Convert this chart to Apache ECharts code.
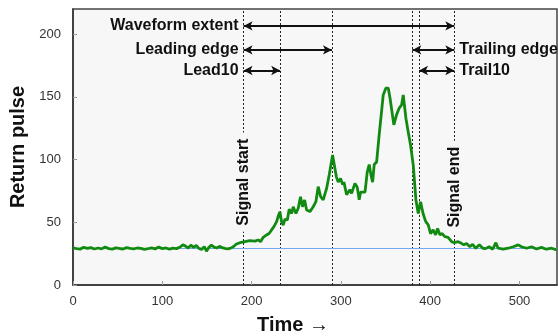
<!DOCTYPE html>
<html>
<head>
<meta charset="utf-8">
<script src="https://cdn.jsdelivr.net/npm/echarts@6/dist/echarts.min.js"></script>
<style>html,body{margin:0;padding:0;background:#fff}#c{width:558px;height:336px}</style>
</head>
<body>
<div id="c"></div>
<script>
// Waveform sample times and return-pulse values
const times = [0,4,8,12,16,20,24,28,32,36,40,44,48,52,56,60,64,68,72,76,80,84,88,92,96,100,104,108,112,116,120,123,126,129,132,135,138,141,144,147,149.5,152,155,158,161,164,167,170,173,176,179.5,183,187,192.5,198,203.7,207.4,210,213,216.8,219.8,222.4,225,228,229.9,231.7,233.6,235.4,237.3,240,242.1,244.8,246.6,249.6,252.2,254.8,257,259.4,261.6,265.3,269,272,274.6,277.3,280.2,284,286.9,290.7,293,295,297,299.6,302,303.4,306.4,310,312,315.7,318.3,320.5,322,324,327,329.5,331.7,333.6,335.5,337.3,340,342.9,345.5,347.4,350.4,353,355,356.7,359.3,362.3,365.3,368,369.8,372.8,375.4,378,381,384,386.6,389.2,392,395,397.8,400.4,403.3,406,408.3,410.8,413.4,416.4,420,424,427,431.3,435,437.7,440.7,444.4,447.5,451,455,459,462,466,470,473.5,476,481.7,487.3,493,498.6,502.3,508,513.5,519,524.6,530,536,541.5];
const pulse = [29.5,29,28.6,30,29.2,29.8,28.7,29.5,28.8,30.3,29,28.6,29.6,29.1,28.7,29.8,29.2,28.8,29.5,29.2,28.4,28.9,29.6,28.8,30.2,29,29.5,28.6,29.4,29,30.3,32,31,29.5,31.8,30,31.5,29.2,28.3,30.5,27,29.8,31.8,30.2,29.5,30.8,29.8,29.2,28.8,29.2,30.5,32.7,33.7,34.5,35.3,35,35.9,34.5,38,39.9,41.2,43.9,46.5,50.5,55,58.5,50.5,47.8,52.4,51.8,60.4,57,62.4,57,61.2,70.4,62.4,67.8,59.8,58.5,62.4,66.4,78.4,70.4,67.8,77,87.7,103.7,94,86,82,85,80,82,72,76,73,81,78,68,74,73,74,90,96,88,82,96,98,120,138,151.5,157,157,149,148,127.6,135.6,141,143.5,151.5,133,122,111.6,95.7,68,57,66.4,57,50.5,48,41,43.9,40,45,40,41,38.5,38,34.5,33.7,34.5,33.2,32,33,30.5,32.4,29.2,32,29.3,29,30.5,28.5,33.7,29.3,28.5,29.3,30.5,32,30.5,29.3,30.5,28.7,30,28.5,29.3,28];

// Noise level
const noiseLevel = 29.3;

// Event times
const signalStart = 191;
const lead10End = 232;
const leadingEdgeEnd = 290;
const trailingEdgeStart = 380;
const trail10Start = 387.5;
const signalEnd = 427;

// Arrow levels
const extentLevel = 206.5;
const edgeLevel = 187.4;
const tenLevel = 171;

// Vertical label anchor values
const signalStartLabelY = 82;
const signalEndLabelY = 78;

const xTicks = [0,100,200,300,400,500];
const yTicks = [0,50,100,150,200];

const FONT = "'Liberation Sans', Arial, sans-serif";
const series = times.map((t, i) => [t, pulse[i]]);

const arrowLabel = (text, pos) => ({
  show: true, position: pos, formatter: text, distance: 5,
  fontFamily: FONT, fontSize: 16, fontWeight: 'bold', color: '#111'
});
const arrow = (x0, x1, y, text, pos) => [
  { coord: [x0, y], label: arrowLabel(text, pos) },
  { coord: [x1, y] }
];
const vlabel = (text, x, y) => ({
  coord: [x, y],
  label: {
    show: true, position: 'inside', rotate: 90, formatter: text,
    fontFamily: FONT, fontSize: 16, fontWeight: 'bold', color: '#111',
    backgroundColor: '#f7f7f7', padding: [1, 6]
  }
});

const chart = echarts.init(document.getElementById('c'), null, { renderer: 'canvas' });
chart.setOption({
  animation: false,
  textStyle: { fontFamily: FONT },
  grid: {
    left: 73, top: 9, width: 484, height: 276,
    outerBoundsMode: 'none', containLabel: false,
    show: true, backgroundColor: '#f7f7f7', borderColor: '#444', borderWidth: 1.5
  },
  xAxis: {
    type: 'value', min: 0, max: 542, interval: 100,
    name: 'Time \u2192', nameLocation: 'middle', nameGap: 30,
    nameTextStyle: { fontFamily: FONT, fontSize: 20, fontWeight: 'bold', color: '#111', padding: [0, 44, 0, 0] },
    axisLine: { lineStyle: { color: '#333', width: 1.5 } },
    axisTick: { inside: true, length: 4, lineStyle: { color: '#999' } },
    axisLabel: { fontFamily: FONT, fontSize: 13, color: '#333', margin: 10, showMaxLabel: false,
      formatter: v => xTicks.includes(v) ? String(v) : '' },
    splitLine: { show: false }
  },
  yAxis: {
    type: 'value', min: 0, max: 220, interval: 50,
    name: 'Return pulse', nameLocation: 'middle', nameGap: 40,
    nameTextStyle: { fontFamily: FONT, fontSize: 20, fontWeight: 'bold', color: '#111' },
    axisLine: { show: true, lineStyle: { color: '#333', width: 1.5 } },
    axisTick: { show: true, inside: true, length: 4, lineStyle: { color: '#999' } },
    axisLabel: { fontFamily: FONT, fontSize: 13, color: '#333', margin: 12, showMaxLabel: false,
      formatter: v => yTicks.includes(v) ? String(v) : '' },
    splitLine: { show: false }
  },
  series: [
    {
      type: 'line', data: series, z: 3, showSymbol: false, symbol: 'none',
      lineStyle: { color: '#118a11', width: 2.8 },
      markLine: {
        silent: true, symbol: ['none', 'none'], animation: false, z: 1,
        lineStyle: { color: '#222', width: 1, type: [2, 2] },
        label: { show: false },
        data: [signalStart, lead10End, leadingEdgeEnd, trailingEdgeStart, trail10Start, signalEnd]
          .map(v => ({ xAxis: v }))
          .concat([{ yAxis: noiseLevel, lineStyle: { color: '#74a9f2', width: 1, type: 'solid' } }])
      }
    },
    {
      type: 'line', data: [], z: 5,
      markLine: {
        silent: true, symbol: ['arrow', 'arrow'], symbolSize: [7, 9], animation: false,
        lineStyle: { color: '#111', width: 2, type: 'solid' },
        data: [
          arrow(signalStart, signalEnd, extentLevel, 'Waveform extent', 'start'),
          arrow(signalStart, leadingEdgeEnd, edgeLevel, 'Leading edge', 'start'),
          arrow(signalStart, lead10End, tenLevel, 'Lead10', 'start'),
          [ { coord: [trailingEdgeStart, edgeLevel] },
            { coord: [signalEnd, edgeLevel], label: arrowLabel('Trailing edge', 'end') } ],
          [ { coord: [trail10Start, tenLevel] },
            { coord: [signalEnd, tenLevel], label: arrowLabel('Trail10', 'end') } ]
        ]
      },
      markPoint: {
        silent: true, symbol: 'circle', symbolSize: 1, animation: false,
        itemStyle: { color: 'rgba(0,0,0,0)' },
        data: [
          vlabel('Signal start', signalStart, signalStartLabelY),
          vlabel('Signal end', signalEnd, signalEndLabelY)
        ]
      }
    }
  ]
});
</script>
</body>
</html>
